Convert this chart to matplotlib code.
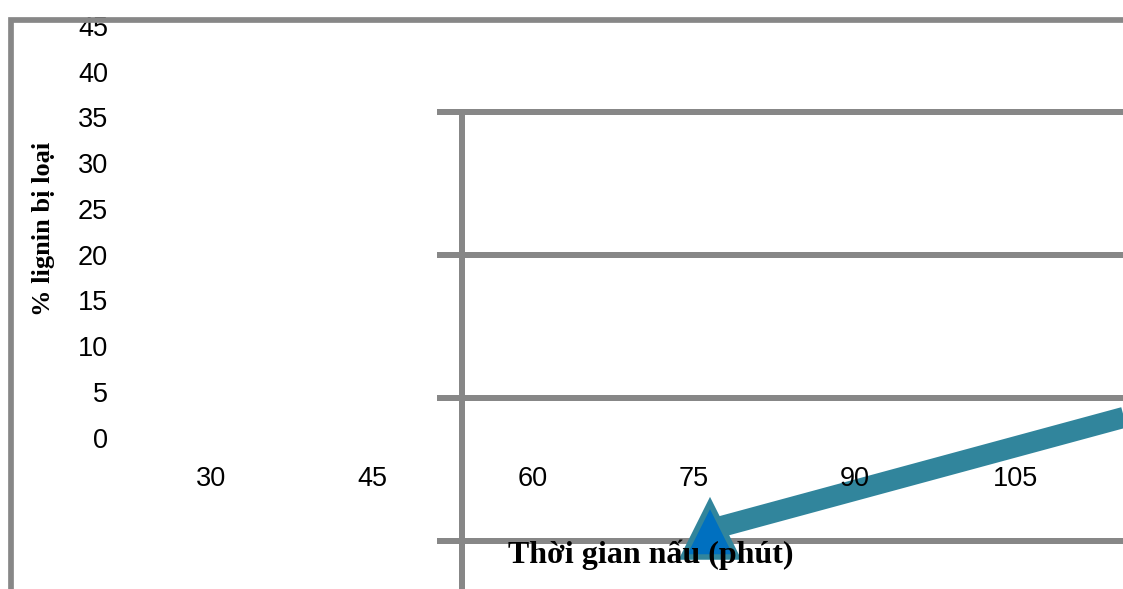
import matplotlib
matplotlib.use("Agg")
import matplotlib.pyplot as plt
from matplotlib.patches import Rectangle

# Cooking time (minutes) and share of lignin removed (%)
times = [30, 45, 60, 75, 90, 105]
lignin_removed = [30.4, 35.1, 38.6, 40.9, 42.3, 43.2]
y_ticks = [0, 5, 10, 15, 20, 25, 30, 35, 40, 45]
x_title = "Thời gian nấu (phút)"
y_title = "% lignin bị loại"

W, H, DPI = 1123, 589, 100
GRAY = "#878787"
TEAL = "#31859C"
BLUE = "#0070C0"
SANS = ["Liberation Sans", "DejaVu Sans"]
SERIF = ["Liberation Serif", "DejaVu Serif"]


def px(v):
    """Pixels to points."""
    return v * 72 / DPI


def box(left, top, width, height):
    """Axes rectangle from pixel coordinates measured from the top-left."""
    return [left / W, (H - top - height) / H, width / W, height / H]


fig = plt.figure(figsize=(W / DPI, H / DPI), dpi=DPI)

# Enlarged plot area with the data series
ax = fig.add_axes(box(462, 112, 496 * len(times), 143 * 9), zorder=1)
ax.patch.set_visible(False)
ax.plot(range(len(times)), lignin_removed, color=TEAL, lw=px(21),
        marker="^", ms=px(54), mfc=BLUE, mec=TEAL, mew=px(5.5),
        solid_capstyle="butt", zorder=3)
ax.set_xlim(-0.5, len(times) - 0.5)
ax.set_ylim(0, 45)
ax.set_yticks(y_ticks)
ax.yaxis.grid(True, color=GRAY, lw=px(6))
for gl in ax.get_ygridlines():
    gl.set_clip_on(False)
ax.tick_params(axis="y", direction="out", length=px(25), width=px(6),
               color=GRAY, labelleft=False)
ax.tick_params(axis="x", length=0, labelbottom=False)
for side in ("top", "right", "bottom"):
    ax.spines[side].set_visible(False)
ax.spines["left"].set_color(GRAY)
ax.spines["left"].set_linewidth(px(6))

# Axis labels layer
lab = fig.add_axes(box(131, 26, 965, 411.5), zorder=2)
lab.patch.set_visible(False)
lab.set_xlim(-0.5, len(times) - 0.5)
lab.set_ylim(0, 45)
lab.set_xticks(range(len(times)), [str(t) for t in times])
lab.set_yticks(y_ticks, [str(t) for t in y_ticks])
lab.tick_params(axis="y", length=0, pad=px(23), labelsize=19.5)
lab.tick_params(axis="x", length=0, pad=px(28), labelsize=19.5)
for t in lab.get_xticklabels() + lab.get_yticklabels():
    t.set_family(SANS)
for s in lab.spines.values():
    s.set_visible(False)

# Chart border
frame = Rectangle((11 / W, -0.5), 2, 0.5 + (H - 20) / H,
                  transform=fig.transFigure, fill=False, ec=GRAY,
                  lw=px(5.7), joinstyle="miter", zorder=3)
fig.add_artist(frame)

fig.text(651 / W, (H - 563) / H, x_title, ha="center", va="baseline",
         fontsize=23, fontweight="bold", family=SERIF, zorder=4)
fig.text(44 / W, (H - 229) / H, y_title, rotation=90, ha="center",
         va="center", fontsize=19, fontweight="bold", family=SERIF, zorder=4)

fig.savefig("out.png", dpi=DPI)
